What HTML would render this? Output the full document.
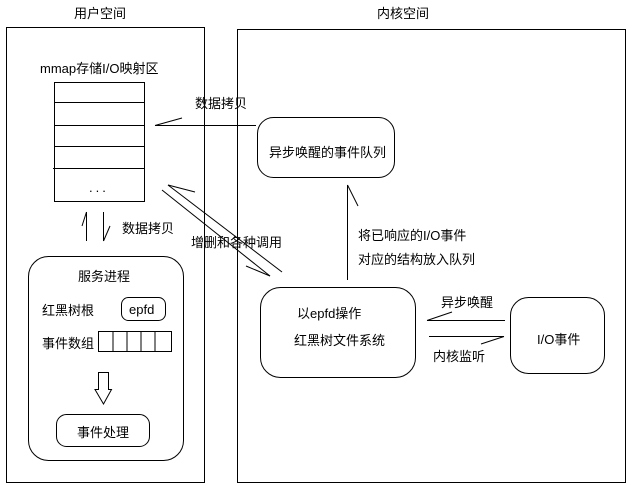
<!DOCTYPE html>
<html><head><meta charset="utf-8"><style>
html,body{margin:0;padding:0;background:#fff;}
svg{display:block;}
text{font-family:"Liberation Sans","Noto Sans CJK SC",sans-serif;font-size:13px;fill:#000;}
</style></head><body>
<svg width="635" height="486" viewBox="0 0 635 486" xmlns="http://www.w3.org/2000/svg">
<g fill="none" stroke="#000" stroke-width="1">
<rect x="6.5" y="27.5" width="198" height="455"/>
<rect x="237.5" y="29.5" width="388" height="453"/>
<rect x="54.5" y="82.5" width="90" height="119"/>
<line x1="54" y1="102.5" x2="144" y2="102.5"/>
<line x1="54" y1="125.5" x2="144" y2="125.5"/>
<line x1="54" y1="146.5" x2="144" y2="146.5"/>
<line x1="53" y1="168.5" x2="144" y2="168.5"/>
<line x1="155" y1="125.5" x2="256" y2="125.5"/>
<line x1="155" y1="125.5" x2="182" y2="118"/>
<rect x="257.5" y="117.5" width="137" height="60" rx="16"/>
<line x1="86.5" y1="212" x2="86.5" y2="241"/>
<line x1="86.5" y1="212" x2="82" y2="226"/>
<line x1="103.5" y1="212" x2="103.5" y2="241"/>
<line x1="103.5" y1="241" x2="110" y2="226"/>
<line x1="168" y1="185" x2="282" y2="272"/>
<line x1="168" y1="185" x2="195" y2="192"/>
<line x1="162" y1="190" x2="270" y2="276"/>
<line x1="246" y1="266" x2="270" y2="276"/>
<line x1="347.5" y1="185" x2="347.5" y2="280"/>
<line x1="347.5" y1="185" x2="358" y2="206"/>
<rect x="260.5" y="287.5" width="155" height="90" rx="20"/>
<rect x="510.5" y="297.5" width="94" height="76" rx="18"/>
<line x1="427" y1="320.5" x2="505" y2="320.5"/>
<line x1="427" y1="320.5" x2="452" y2="312"/>
<line x1="429" y1="336.5" x2="504" y2="336.5"/>
<line x1="504" y1="336.5" x2="481" y2="344"/>
<rect x="28.5" y="256.5" width="155" height="204" rx="20"/>
<rect x="121.5" y="297.5" width="44" height="23" rx="7"/>
<rect x="98.5" y="331.5" width="73" height="20"/>
<line x1="113" y1="331" x2="113" y2="351"/>
<line x1="127" y1="331" x2="127" y2="351"/>
<line x1="141" y1="331" x2="141" y2="351"/>
<line x1="155" y1="331" x2="155" y2="351"/>
<path d="M98.5 372.5 H108.5 V389.5 H111.5 L103.5 404 L95 389.5 H98.5 Z"/>
<rect x="56.5" y="414.5" width="93" height="32" rx="10"/>
</g>
<text x="74" y="18">用户空间</text>
<text x="377" y="18">内核空间</text>
<text x="40" y="73">mmap存储I/O映射区</text>
<text x="89" y="192" letter-spacing="3">...</text>
<text x="195" y="108">数据拷贝</text>
<text x="269" y="157">异步唤醒的事件队列</text>
<text x="122" y="233">数据拷贝</text>
<text x="191" y="247">增删和各种调用</text>
<text x="358" y="240">将已响应的I/O事件</text>
<text x="358" y="264">对应的结构放入队列</text>
<text x="297" y="318">以epfd操作</text>
<text x="294" y="345">红黑树文件系统</text>
<text x="441" y="307">异步唤醒</text>
<text x="433" y="361">内核监听</text>
<text x="537" y="344">I/O事件</text>
<text x="78" y="281">服务进程</text>
<text x="42" y="315">红黑树根</text>
<text x="129" y="314">epfd</text>
<text x="42" y="348">事件数组</text>
<text x="77" y="437">事件处理</text>
</svg>
</body></html>
